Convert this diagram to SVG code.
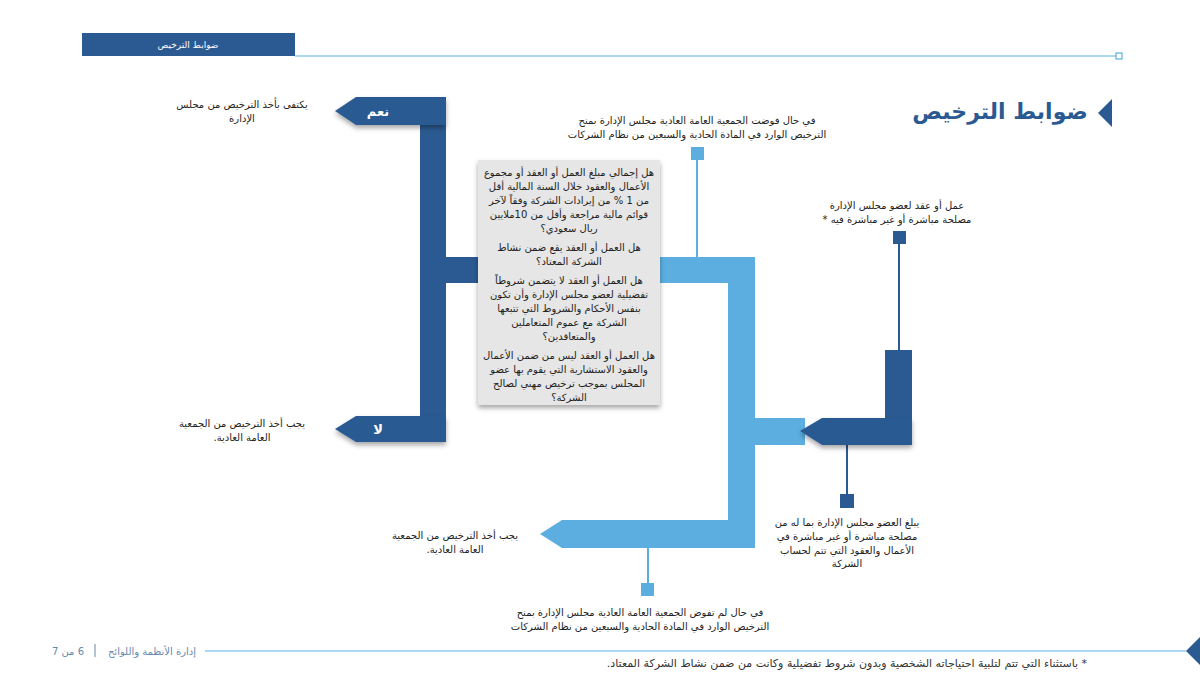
<svg xmlns="http://www.w3.org/2000/svg" width="1200" height="675" viewBox="0 0 1200 675">
<defs>
<style>
.t{font-family:"DejaVu Sans","Noto Sans",sans-serif;font-size:10px;fill:#222;text-anchor:middle;direction:rtl;unicode-bidi:embed}
.q{font-family:"DejaVu Sans","Noto Sans",sans-serif;font-size:10px;fill:#222;text-anchor:middle;direction:rtl;unicode-bidi:embed}
.w{font-family:"DejaVu Sans","Noto Sans",sans-serif;fill:#fff;text-anchor:middle;direction:rtl;unicode-bidi:embed}
.dk{fill:#2b5a92}
.lt{fill:#5caee1}
.ln{stroke-width:2;fill:none}
.f{font-family:"DejaVu Sans","Noto Sans",sans-serif;font-size:10px;fill:#6688b0;text-anchor:middle;direction:rtl;unicode-bidi:embed}
.fn{font-family:"DejaVu Sans","Noto Sans",sans-serif;font-size:11px;fill:#333;text-anchor:middle;direction:rtl;unicode-bidi:embed}
</style>
<filter id="sh" x="-10%" y="-10%" width="130%" height="140%">
<feDropShadow dx="0" dy="3" stdDeviation="2.5" flood-color="#000" flood-opacity="0.35"/>
</filter>
</defs>
<rect width="1200" height="675" fill="#fff"/>

<g id="header">
<rect x="82" y="33" width="213" height="23" class="dk"/>
<text class="w" x="188" y="48" font-size="9">ضوابط الترخيص</text>
<line x1="295" y1="56" x2="1116" y2="56" stroke="#5caee1" stroke-width="1"/>
<rect x="1116" y="53" width="6" height="6" fill="#fff" stroke="#5caee1" stroke-width="1.2"/>
</g>

<g id="title">
<text x="1000" y="119" font-family="DejaVu Sans, sans-serif" font-size="22" font-weight="bold" fill="#2b5a92" text-anchor="middle" style="direction:rtl;unicode-bidi:embed">ضوابط الترخيص</text>
<polygon points="1112,99 1112,127 1098,113" class="dk"/>
</g>

<g id="connectors">
<rect x="420" y="97" width="26" height="345" class="dk"/>
<rect x="420" y="257" width="60" height="26" class="dk"/>
<rect x="660" y="257" width="95" height="26" class="lt"/>
<rect x="728" y="257" width="27" height="291" class="lt"/>
<rect x="755" y="418" width="50" height="27" class="lt"/>
<rect x="885" y="350" width="27" height="95" class="dk"/>
<line x1="697" y1="158" x2="697" y2="257" stroke="#5caee1" class="ln"/>
<line x1="899" y1="243" x2="899" y2="350" stroke="#2b5a92" class="ln"/>
<line x1="847" y1="445" x2="847" y2="495" stroke="#2b5a92" class="ln"/>
<line x1="648" y1="548" x2="648" y2="584" stroke="#5caee1" class="ln"/>
</g>

<g id="node-yes">
<polygon points="335,111 356,97 446,97 446,125 356,125" class="dk" filter="url(#sh)"/>
<text class="w" x="378" y="116" font-size="13" font-weight="bold">نعم</text>
</g>

<g id="node-no">
<polygon points="335,429 356,416 446,416 446,442 356,442" class="dk" filter="url(#sh)"/>
<text class="w" x="378" y="434" font-size="13" font-weight="bold">لا</text>
</g>

<g id="node-right-arrow">
<polygon points="800,431 822,418 912,418 912,445 822,445" class="dk" filter="url(#sh)"/>
</g>

<g id="node-bottom-arrow">
<polygon points="540,534 562,520 755,520 755,548 562,548" class="lt"/>
</g>

<g id="node-squares">
<rect x="691" y="147" width="13" height="13" class="lt"/>
<rect x="893" y="231" width="13" height="13" class="dk"/>
<rect x="840" y="494" width="14" height="14" class="dk"/>
<rect x="641" y="583" width="13" height="13" class="lt"/>
</g>

<g id="node-questions">
<rect x="478" y="160" width="182" height="245" fill="#e6e6e6" filter="url(#sh)"/>
<text class="q" x="569" y="176">هل إجمالي مبلغ العمل أو العقد أو مجموع</text>
<text class="q" x="569" y="190">الأعمال والعقود خلال السنة المالية أقل</text>
<text class="q" x="569" y="204">من 1 % من إيرادات الشركة وفقاً لآخر</text>
<text class="q" x="569" y="218">قوائم مالية مراجعة وأقل من 10ملايين</text>
<text class="q" x="569" y="232">ريال سعودي؟</text>
<text class="q" x="569" y="251">هل العمل أو العقد يقع ضمن نشاط</text>
<text class="q" x="569" y="265">الشركة المعتاد؟</text>
<text class="q" x="569" y="284">هل العمل أو العقد لا يتضمن شروطاً</text>
<text class="q" x="569" y="298">تفضيلية لعضو مجلس الإدارة وأن تكون</text>
<text class="q" x="569" y="312">بنفس الأحكام والشروط التي تتبعها</text>
<text class="q" x="569" y="326">الشركة مع عموم المتعاملين</text>
<text class="q" x="569" y="340">والمتعاقدين؟</text>
<text class="q" x="569" y="359">هل العمل أو العقد ليس من ضمن الأعمال</text>
<text class="q" x="569" y="373">والعقود الاستشارية التي يقوم بها عضو</text>
<text class="q" x="569" y="387">المجلس بموجب ترخيص مهني لصالح</text>
<text class="q" x="569" y="401">الشركة؟</text>
</g>

<g id="label-top">
<text class="t" x="697" y="124">في حال فوضت الجمعية العامة العادية مجلس الإدارة بمنح</text>
<text class="t" x="697" y="138">الترخيص الوارد في المادة الحادية والسبعين من نظام الشركات</text>
</g>

<g id="label-right">
<text class="t" x="897" y="209">عمل أو عقد لعضو مجلس الإدارة</text>
<text class="t" x="897" y="223">مصلحة مباشرة أو غير مباشرة فيه *</text>
</g>

<g id="label-yes">
<text class="t" x="242" y="108">يكتفى بأخذ الترخيص من مجلس</text>
<text class="t" x="242" y="122">الإدارة</text>
</g>

<g id="label-no">
<text class="t" x="242" y="427">يجب أخذ الترخيص من الجمعية</text>
<text class="t" x="242" y="441">العامة العادية.</text>
</g>

<g id="label-bottom-right">
<text class="t" x="847" y="526">يبلغ العضو مجلس الإدارة بما له من</text>
<text class="t" x="847" y="540">مصلحة مباشرة أو غير مباشرة في</text>
<text class="t" x="847" y="554">الأعمال والعقود التي تتم لحساب</text>
<text class="t" x="847" y="567">الشركة</text>
</g>

<g id="label-bottom-left">
<text class="t" x="455" y="539">يجب أخذ الترخيص من الجمعية</text>
<text class="t" x="455" y="553">العامة العادية.</text>
</g>

<g id="label-bottom">
<text class="t" x="640" y="616">في حال لم تفوض الجمعية العامة العادية مجلس الإدارة بمنح</text>
<text class="t" x="640" y="630">الترخيص الوارد في المادة الحادية والسبعين من نظام الشركات</text>
</g>

<g id="footer">
<line x1="205" y1="651" x2="1186" y2="651" stroke="#5caee1" stroke-width="1"/>
<polygon points="1200,637 1200,665 1186,651" class="dk"/>
<text class="f" x="152" y="655">إدارة الأنظمة واللوائح</text>
<line x1="95" y1="644" x2="95" y2="657" stroke="#6688b0" stroke-width="1"/>
<text class="f" x="68" y="655">6 من 7</text>
<text class="fn" x="847" y="667">* باستثناء التي تتم لتلبية احتياجاته الشخصية وبدون شروط تفضيلية وكانت من ضمن نشاط الشركة المعتاد.</text>
</g>
</svg>
